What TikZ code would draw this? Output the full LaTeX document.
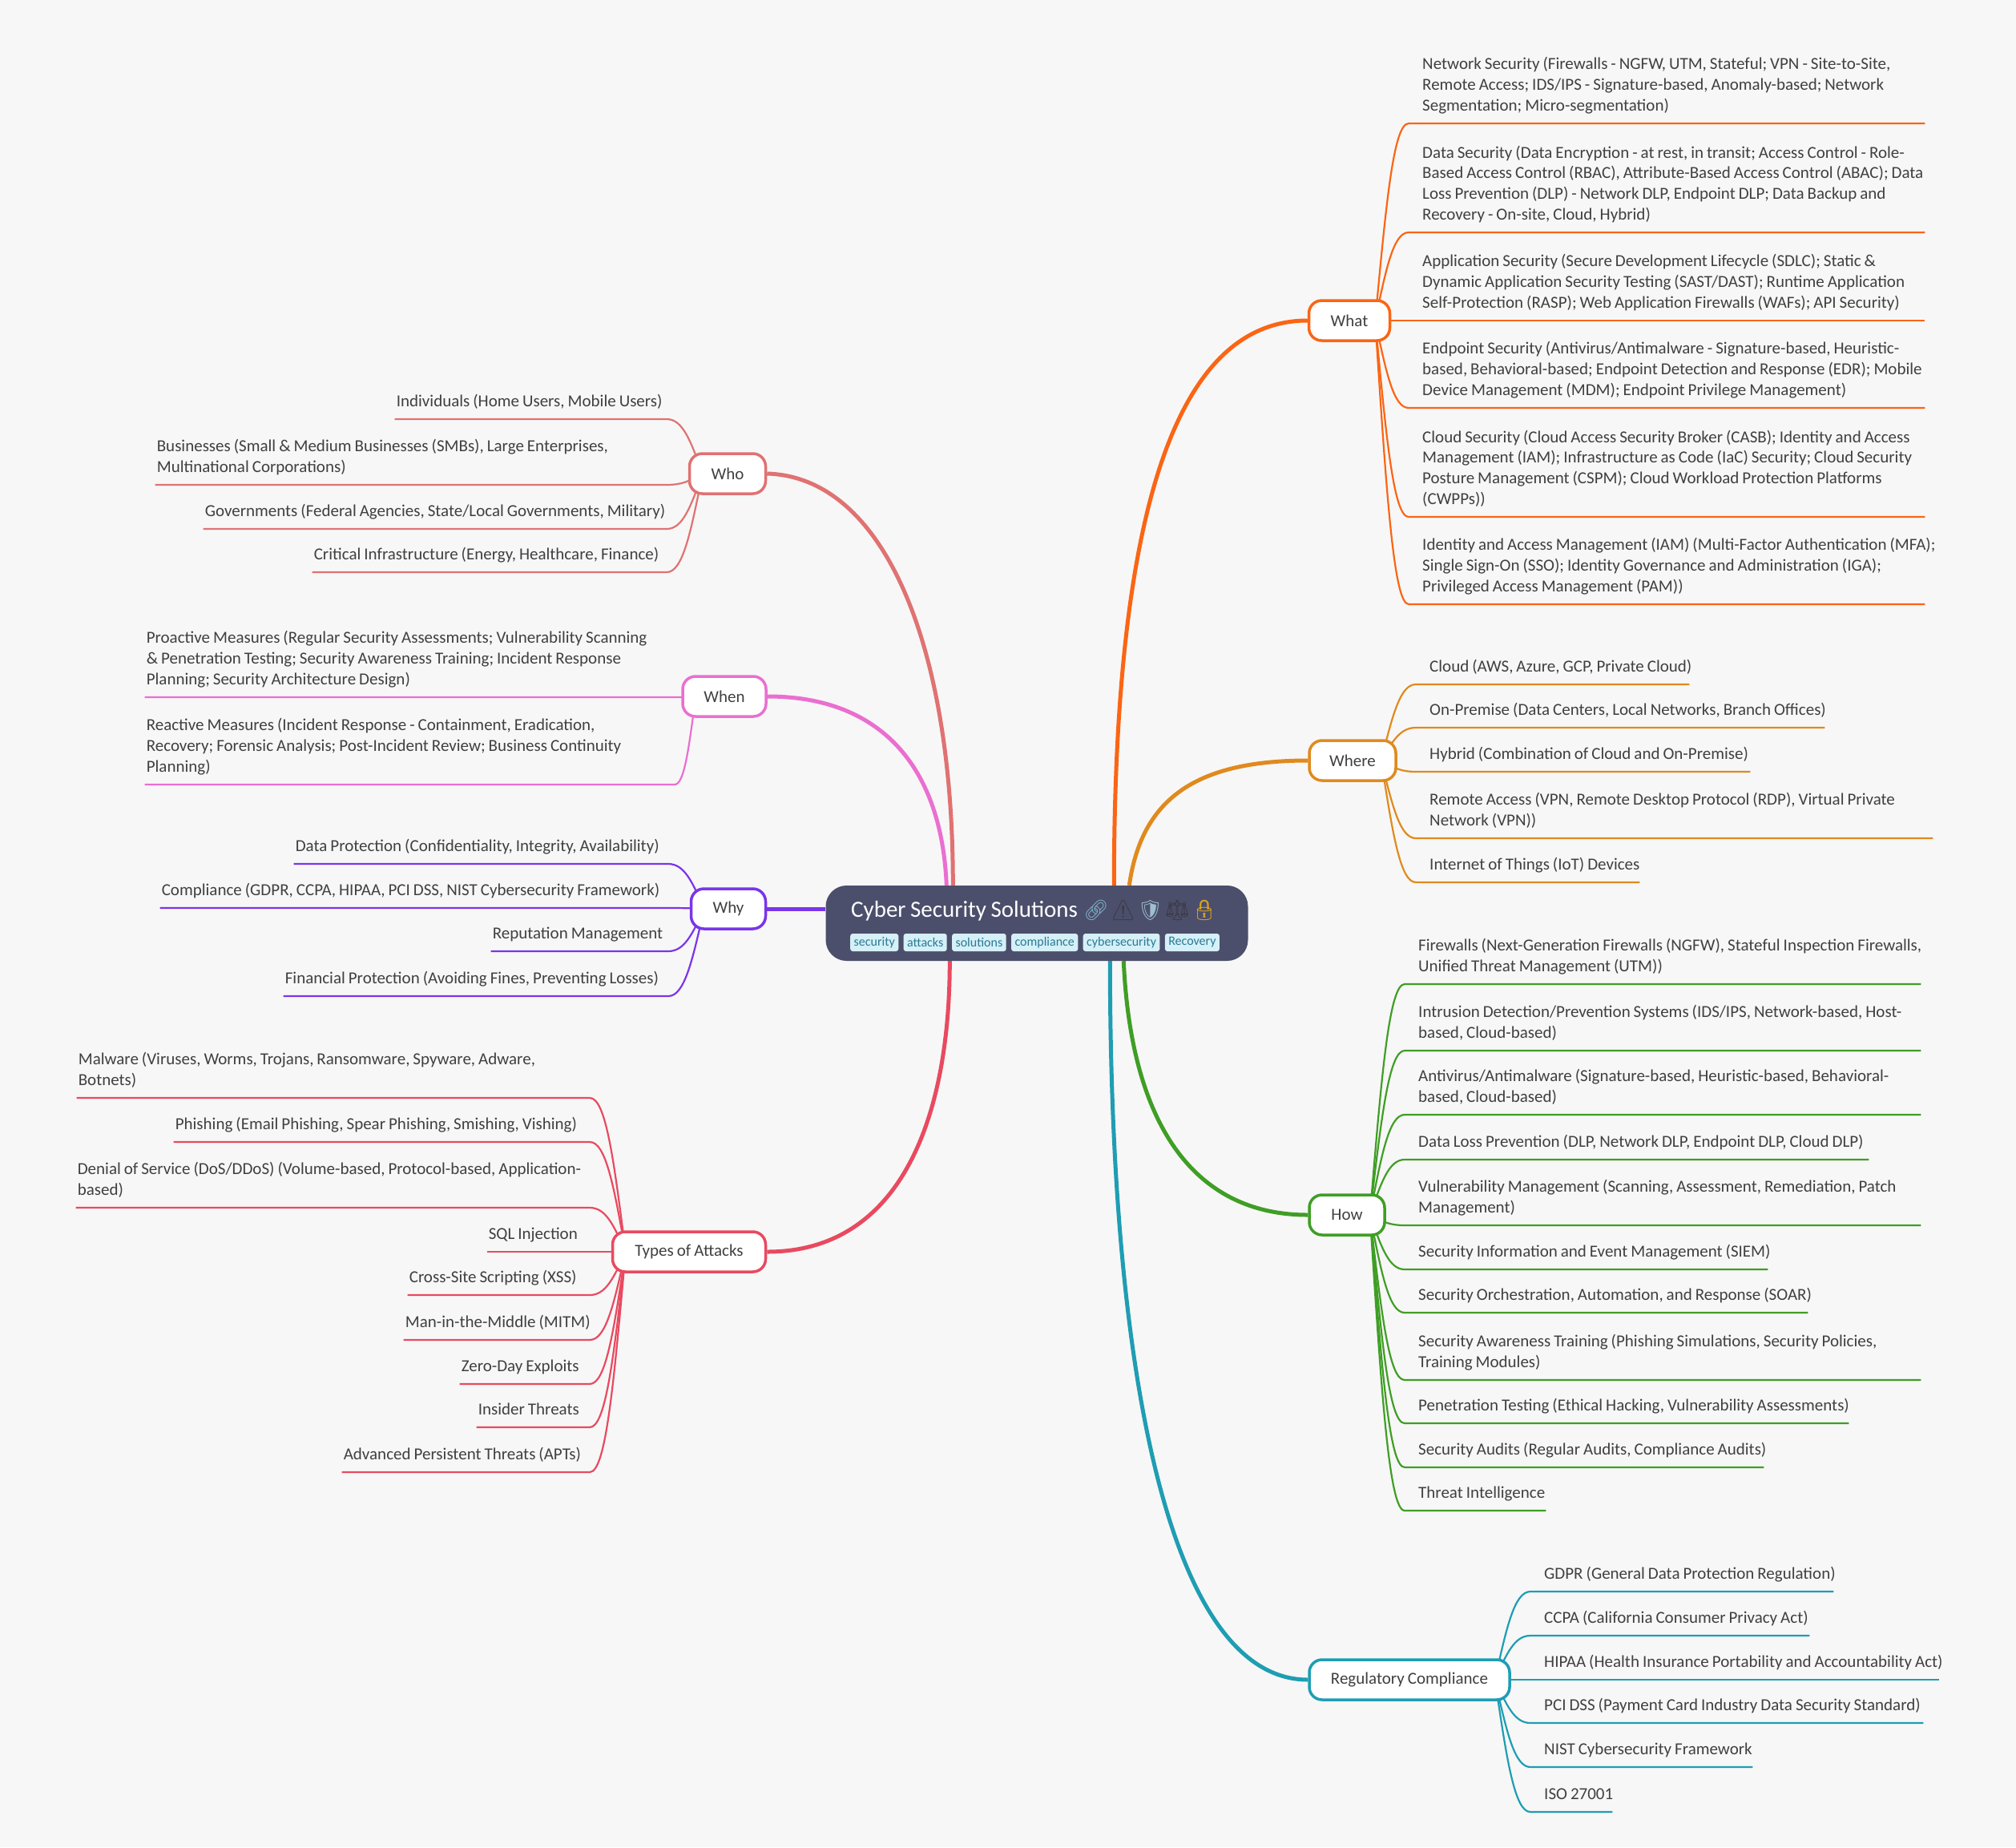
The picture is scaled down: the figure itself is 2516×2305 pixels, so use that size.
\documentclass[tikz,border=0pt]{standalone}
\usepackage{fontspec}
\setmainfont[WordSpace=0.85]{Carlito}
\newfontfamily\emojifont{Noto Emoji}
\usetikzlibrary{calc,positioning,backgrounds}
\definecolor{pagebg}{HTML}{F7F7F7}
\definecolor{rootbg}{HTML}{4C4F6B}
\definecolor{tagbg}{HTML}{D5F0F7}
\definecolor{tagfg}{HTML}{2A7A95}
\definecolor{inkcol}{HTML}{404040}
\definecolor{whocol}{HTML}{E07272}
\definecolor{whencol}{HTML}{EA6FD0}
\definecolor{whycol}{HTML}{7A35EA}
\definecolor{typescol}{HTML}{E84A60}
\definecolor{whatcol}{HTML}{FB6514}
\definecolor{wherecol}{HTML}{E08A1E}
\definecolor{howcol}{HTML}{3F9E25}
\definecolor{regcol}{HTML}{1F9DB3}
\tikzset{
  leafbase/.style={inner xsep=0pt,inner ysep=7.5pt,text=inkcol,font=\fontsize{21}{25.8}\selectfont},
  leafr/.style={leafbase,anchor=south west,text width=#1,execute at begin node={\spaceskip=.19em\leftskip=17pt\rightskip=-300pt\relax\strut},execute at end node={\strut}},
  leafl/.style={leafbase,anchor=south east,text width=#1,execute at begin node={\spaceskip=.19em\leftskip=2pt\rightskip=-300pt\relax\strut},execute at end node={\strut}},
  branch/.style={draw=#1,fill=white,line width=3.5pt,rounded corners=16pt,minimum height=50pt,text=inkcol,font=\fontsize{21}{25.8}\selectfont},
  mainline/.style={line width=5pt},
  leafline/.style={line width=2.2pt,to path={.. controls ($(\tikztostart)!.6!($(\tikztotarget)!.45!(\tikztostart |- \tikztotarget)$)$) and ($(\tikztotarget)!.45!(\tikztostart |- \tikztotarget)$) .. (\tikztotarget)}},
  tagbox/.style={fill=tagbg,text=tagfg,rounded corners=3pt,inner xsep=4.4pt,inner ysep=0pt,minimum height=22pt,font=\fontsize{16}{20}\selectfont},
}
\begin{document}
\begin{tikzpicture}[x=1pt,y=-1pt,node distance=6pt]
  \useasboundingbox(0,0)rectangle(2516,2305);
  \node[fill=rootbg,rounded corners=26pt,minimum width=527pt,minimum height=94pt,inner sep=0pt](root) at (1294,1152){};
  \node[anchor=base west,inner sep=0pt,text=white,font=\fontsize{29}{36}\selectfont](title) at (1062,1144){Cyber Security Solutions\hspace{7pt}{\emojifont\fontsize{25}{30}\selectfont\textcolor[HTML]{7EB3C9}{🔗}\hspace{2pt}\textcolor[HTML]{3A3A44}{⚠}\hspace{2pt}\textcolor[HTML]{9FC0CF}{🛡}\hspace{2pt}\textcolor[HTML]{3A3A44}{⚖}\hspace{2pt}\textcolor[HTML]{D9A520}{🔒}}};
  \node[tagbox,anchor=west](tagA) at (1061,1176){security};
  \node[tagbox,right=of tagA](tagB){attacks};
  \node[tagbox,right=of tagB](tagC){solutions};
  \node[tagbox,right=of tagC](tagD){compliance};
  \node[tagbox,right=of tagD](tagE){cybersecurity};
  \node[tagbox,right=of tagE](tagF){Recovery};

  \node[branch=whocol,minimum width=95pt](who) at (908,591){Who};
  \node[branch=whencol,minimum width=104pt](when) at (904,869){When};
  \node[branch=whycol,minimum width=93pt](why) at (909,1134){Why};
  \node[branch=typescol,minimum width=191pt](types) at (860,1562){Types of Attacks};
  \node[branch=whatcol,minimum width=101pt](what) at (1684,400){What};
  \node[branch=wherecol,minimum width=108pt](where) at (1688,949){Where};
  \node[branch=howcol,minimum width=94pt](how) at (1681,1516){How};
  \node[branch=regcol,minimum width=250pt](reg) at (1759,2096){Regulatory Compliance};

  \node[leafl=339](whoA) at (832,523){Individuals (Home Users, Mobile Users)};
  \node[leafl=638](whoB) at (832,605){Businesses (Small \& Medium Businesses (SMBs), Large Enterprises,\\Multinational Corporations)};
  \node[leafl=578](whoC) at (832,660){Governments (Federal Agencies, State/Local Governments, Military)};
  \node[leafl=442](whoD) at (832,714){Critical Infrastructure (Energy, Healthcare, Finance)};

  \node[leafl=661](whenA) at (842,870){Proactive Measures (Regular Security Assessments; Vulnerability Scanning\\\& Penetration Testing; Security Awareness Training; Incident Response\\Planning; Security Architecture Design)};
  \node[leafl=661](whenB) at (842,979){Reactive Measures (Incident Response - Containment, Eradication,\\Recovery; Forensic Analysis; Post-Incident Review; Business Continuity\\Planning)};

  \node[leafl=467](whyA) at (834,1078){Data Protection (Confidentiality, Integrity, Availability)};
  \node[leafl=634](whyB) at (834,1133){Compliance (GDPR, CCPA, HIPAA, PCI DSS, NIST Cybersecurity Framework)};
  \node[leafl=221](whyC) at (834,1187){Reputation Management};
  \node[leafl=480](whyD) at (834,1243){Financial Protection (Avoiding Fines, Preventing Losses)};

  \node[leafl=640](typesA) at (736,1370){Malware (Viruses, Worms, Trojans, Ransomware, Spyware, Adware,\\Botnets)};
  \node[leafl=519](typesB) at (736,1425){Phishing (Email Phishing, Spear Phishing, Smishing, Vishing)};
  \node[leafl=641](typesC) at (736,1507){Denial of Service (DoS/DDoS) (Volume-based, Protocol-based, Application-\\based)};
  \node[leafl=128](typesD) at (736,1562){SQL Injection};
  \node[leafl=227](typesE) at (736,1616){Cross-Site Scripting (XSS)};
  \node[leafl=232](typesF) at (736,1672){Man-in-the-Middle (MITM)};
  \node[leafl=162](typesG) at (736,1727){Zero-Day Exploits};
  \node[leafl=141](typesH) at (736,1781){Insider Threats};
  \node[leafl=309](typesI) at (736,1837){Advanced Persistent Threats (APTs)};

  \node[leafr=644](whatA) at (1758,154){Network Security (Firewalls - NGFW, UTM, Stateful; VPN - Site-to-Site,\\Remote Access; IDS/IPS - Signature-based, Anomaly-based; Network\\Segmentation; Micro-segmentation)};
  \node[leafr=644](whatB) at (1758,290){Data Security (Data Encryption - at rest, in transit; Access Control - Role-\\Based Access Control (RBAC), Attribute-Based Access Control (ABAC); Data\\Loss Prevention (DLP) - Network DLP, Endpoint DLP; Data Backup and\\Recovery - On-site, Cloud, Hybrid)};
  \node[leafr=644](whatC) at (1758,400){Application Security (Secure Development Lifecycle (SDLC); Static \&\\Dynamic Application Security Testing (SAST/DAST); Runtime Application\\Self-Protection (RASP); Web Application Firewalls (WAFs); API Security)};
  \node[leafr=644](whatD) at (1758,509){Endpoint Security (Antivirus/Antimalware - Signature-based, Heuristic-\\based, Behavioral-based; Endpoint Detection and Response (EDR); Mobile\\Device Management (MDM); Endpoint Privilege Management)};
  \node[leafr=644](whatE) at (1758,645){Cloud Security (Cloud Access Security Broker (CASB); Identity and Access\\Management (IAM); Infrastructure as Code (IaC) Security; Cloud Security\\Posture Management (CSPM); Cloud Workload Protection Platforms\\(CWPPs))};
  \node[leafr=644](whatF) at (1758,754){Identity and Access Management (IAM) (Multi-Factor Authentication (MFA);\\Single Sign-On (SSO); Identity Governance and Administration (IGA);\\Privileged Access Management (PAM))};

  \node[leafr=341](whereA) at (1767,854){Cloud (AWS, Azure, GCP, Private Cloud)};
  \node[leafr=510](whereB) at (1767,908){On-Premise (Data Centers, Local Networks, Branch Offices)};
  \node[leafr=417](whereC) at (1767,963){Hybrid (Combination of Cloud and On-Premise)};
  \node[leafr=645](whereD) at (1767,1046){Remote Access (VPN, Remote Desktop Protocol (RDP), Virtual Private\\Network (VPN))};
  \node[leafr=279](whereE) at (1767,1101){Internet of Things (IoT) Devices};

  \node[leafr=644](howA) at (1753,1228){Firewalls (Next-Generation Firewalls (NGFW), Stateful Inspection Firewalls,\\Unified Threat Management (UTM))};
  \node[leafr=644](howB) at (1753,1311){Intrusion Detection/Prevention Systems (IDS/IPS, Network-based, Host-\\based, Cloud-based)};
  \node[leafr=644](howC) at (1753,1391){Antivirus/Antimalware (Signature-based, Heuristic-based, Behavioral-\\based, Cloud-based)};
  \node[leafr=579](howD) at (1753,1447){Data Loss Prevention (DLP, Network DLP, Endpoint DLP, Cloud DLP)};
  \node[leafr=644](howE) at (1753,1529){Vulnerability Management (Scanning, Assessment, Remediation, Patch\\Management)};
  \node[leafr=453](howF) at (1753,1584){Security Information and Event Management (SIEM)};
  \node[leafr=503](howG) at (1753,1638){Security Orchestration, Automation, and Response (SOAR)};
  \node[leafr=644](howH) at (1753,1722){Security Awareness Training (Phishing Simulations, Security Policies,\\Training Modules)};
  \node[leafr=554](howI) at (1753,1776){Penetration Testing (Ethical Hacking, Vulnerability Assessments)};
  \node[leafr=448](howJ) at (1753,1831){Security Audits (Regular Audits, Compliance Audits)};
  \node[leafr=176](howK) at (1753,1885){Threat Intelligence};

  \node[leafr=378](regA) at (1910,1986){GDPR (General Data Protection Regulation)};
  \node[leafr=348](regB) at (1910,2041){CCPA (California Consumer Privacy Act)};
  \node[leafr=510](regC) at (1910,2096){HIPAA (Health Insurance Portability and Accountability Act)};
  \node[leafr=490](regD) at (1910,2150){PCI DSS (Payment Card Industry Data Security Standard)};
  \node[leafr=277](regE) at (1910,2205){NIST Cybersecurity Framework};
  \node[leafr=102](regF) at (1910,2261){ISO 27001};

  \coordinate(whoS) at ($(who.west)+(18,0)$);
  \coordinate(whenS) at ($(when.west)+(18,0)$);
  \coordinate(whyS) at ($(why.west)+(18,0)$);
  \coordinate(typesS) at ($(types.west)+(18,0)$);
  \coordinate(whatS) at ($(what.east)+(-20,0)$);
  \coordinate(whereS) at ($(where.east)+(-20,0)$);
  \coordinate(howS) at ($(how.east)+(-20,0)$);
  \coordinate(regS) at ($(reg.east)+(-20,0)$);

  \begin{scope}[on background layer]
    \fill[pagebg](0,0)rectangle(2516,2305);
    \draw[mainline,whocol](who.east)..controls +(144,4) and +(0,-305)..($(root.north west)+(159,0)$);
    \draw[mainline,whencol](when.east)..controls +(144,0) and +(-6,-145)..($(root.north west)+(151,0)$);
    \draw[mainline,whycol](why.east)--(why.east -| root.west);
    \draw[mainline,typescol](types.east)..controls +(164,0) and +(0,201)..($(root.south west)+(155,0)$);
    \draw[mainline,whatcol]($(root.north west)+(360,0)$)..controls +(0,-405) and +(-184,0)..(what.west);
    \draw[mainline,wherecol]($(root.north west)+(379,0)$)..controls +(15,-105) and +(-144,0)..(where.west);
    \draw[mainline,howcol]($(root.south west)+(372,0)$)..controls +(9,201) and +(-144,0)..(how.west);
    \draw[mainline,regcol]($(root.south west)+(355,0)$)..controls +(0,551) and +(-164,0)..(reg.west);
    \foreach \n in {whoA,whoB,whoC,whoD}\draw[leafline,whocol](whoS)to(\n.south east)--(\n.south west);
    \foreach \n in {whenA,whenB}\draw[leafline,whencol](whenS)to(\n.south east)--(\n.south west);
    \foreach \n in {whyA,whyB,whyC,whyD}\draw[leafline,whycol](whyS)to(\n.south east)--(\n.south west);
    \foreach \n in {typesA,typesB,typesC,typesD,typesE,typesF,typesG,typesH,typesI}\draw[leafline,typescol](typesS)to(\n.south east)--(\n.south west);
    \foreach \n in {whatA,whatB,whatC,whatD,whatE,whatF}\draw[leafline,whatcol](whatS)to(\n.south west)--(\n.south east);
    \foreach \n in {whereA,whereB,whereC,whereD,whereE}\draw[leafline,wherecol](whereS)to(\n.south west)--(\n.south east);
    \foreach \n in {howA,howB,howC,howD,howE,howF,howG,howH,howI,howJ,howK}\draw[leafline,howcol](howS)to(\n.south west)--(\n.south east);
    \foreach \n in {regA,regB,regC,regD,regE,regF}\draw[leafline,regcol](regS)to(\n.south west)--(\n.south east);
  \end{scope}
\end{tikzpicture}
\end{document}
